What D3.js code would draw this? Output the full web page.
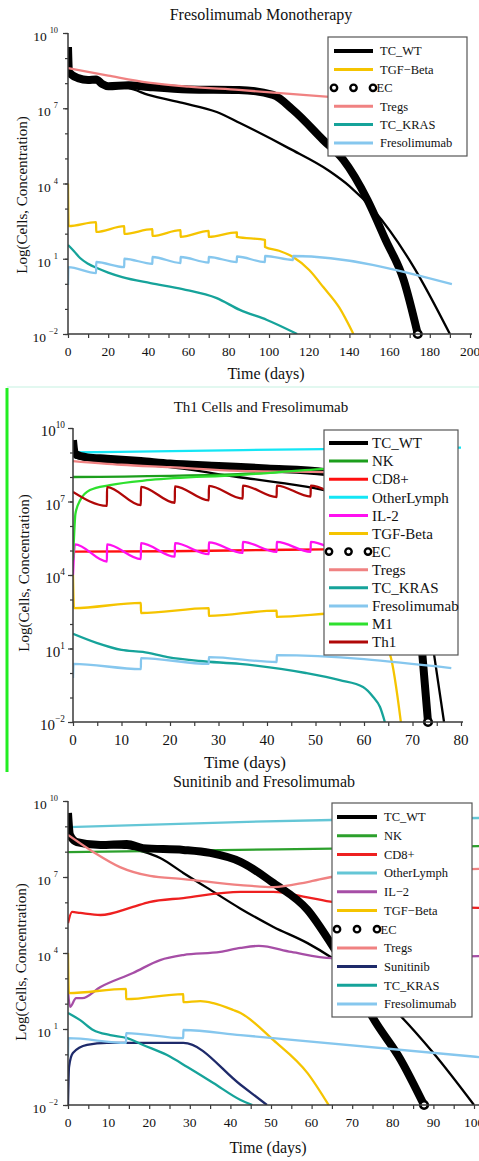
<!DOCTYPE html>
<html>
<head>
<meta charset="utf-8">
<script src="https://cdn.jsdelivr.net/npm/d3@7"></script>
<style>
body { margin: 0; background: #fff; }
svg { display: block; }
text { font-family: "Liberation Serif", "Times New Roman", serif; fill: #111; }
</style>
</head>
<body>
<script>
// values are log10 of the quantity: [day, exponent]

// panel 1 - Fresolimumab Monotherapy
var p1_TC_WT = [[0,8.44],[5,8.2],[10,8.13],[14,8.1],[20,7.85],[30,7.8],[40,7.53],[57,7.21],[74,6.85],[85.5,6.41],[110,5.4],[130,4.5],[140,3.9],[152,2.94],[172,0.67],[190,-2]]
var p1_TGF = [[0,4.0],[0.3,2.3],[14,2.46],[14.01,2.07],[28,2.3],[28.01,1.99],[42,2.18],[42.01,1.91],[56,2.14],[56.01,1.87],[70,2.11],[70.01,1.87],[84,2.05],[84.01,1.87],[98,1.75],[98.01,1.47],[105,1.32],[112,1.07],[120,0.55],[127,-0.13],[135,-0.95],[142,-2]]
var p1_EC = [[0,9.44],[0.5,8.44],[5,8.2],[10,8.13],[14,8.15],[17,7.97],[20,7.88],[30,7.92],[40,7.85],[60,7.75],[85,7.73],[102,7.53],[112,6.93],[127,5.73],[137,4.94],[149,3.34],[158,1.75],[167,0.15],[174,-2]]
var p1_Tregs = [[0,8.6],[20,8.3],[40,8.02],[60,7.86],[85,7.73],[130,7.45],[170,7.2]]
var p1_KRAS = [[0,1.55],[3,1.3],[6,1.03],[10,0.8],[14.4,0.63],[20,0.45],[27,0.27],[41,0.03],[57,-0.21],[74,-0.57],[85.5,-1.04],[99,-1.44],[114,-2]]
var p1_Fres = [[0,-0.05],[0.2,0.67],[14,0.43],[14.01,0.87],[28,0.67],[28.01,1.0],[42,0.8],[42.01,1.07],[56,0.83],[56.01,1.07],[70,0.85],[70.01,1.07],[84,0.87],[84.01,1.09],[98,0.87],[98.01,1.11],[112,0.95],[112.01,1.11],[191,-0.01]]

// panel 2 - Th1 Cells and Fresolimumab
var p2_TC_WT = [[0,9.5],[0.4,8.8],[3,8.7],[10,8.55],[20,8.4],[34,8.0],[45,7.7],[52,7.45],[60,6.9],[66,6.1],[70,5.1],[72,4.2],[74,1.35],[76.5,-2]]
var p2_NK = [[0,8.0],[34,8.12],[52,8.3],[78,8.4]]
var p2_CD8 = [[0,4.95],[20,4.97],[40,5.02],[52,5.05],[78,5.1]]
var p2_Other = [[0,9.0],[35,9.1],[80,9.2]]
var p2_IL2 = [[0,4.0],[0.4,5.25],[7,4.55],[7.01,5.25],[14,4.65],[14.01,5.3],[21,4.75],[21.01,5.3],[28,4.85],[28.01,5.33],[35,4.9],[35.01,5.35],[42,4.94],[42.01,5.35],[49,4.95],[49.01,5.35],[56,4.95],[56.01,5.35],[63,4.95],[63.01,5.35],[70,4.95],[70.01,5.35],[77,4.95]]
var p2_TGF = [[0,4.0],[0.2,2.65],[14,2.86],[14.01,2.45],[28,2.65],[28.01,2.33],[42,2.55],[42.01,2.29],[56,2.45],[56.01,2.2],[60,1.95],[63,1.45],[65.4,0.73],[67.6,-2]]
var p2_EC = [[0,9.5],[0.4,8.95],[3,8.8],[7,8.75],[14,8.65],[20,8.55],[30,8.45],[40,8.35],[52,8.2],[60,7.7],[65,6.9],[68.5,5.6],[70.5,4.2],[71.8,1.3],[73.2,-2]]
var p2_Tregs = [[0,8.65],[10,8.5],[20,8.4],[34,8.25],[52,8.2],[78,8.1]]
var p2_KRAS = [[0,1.6],[5,1.22],[10,0.94],[14.4,0.86],[19.5,0.65],[26,0.49],[34.4,0.37],[48,0.0],[55,-0.29],[59.8,-0.57],[61.9,-0.98],[63.3,-1.39],[64.3,-2]]
var p2_Fres = [[0,-0.2],[0.1,0.37],[14,0.16],[14.01,0.61],[28,0.37],[28.01,0.65],[42,0.45],[42.01,0.73],[78,0.2]]
var p2_M1 = [[0,4.6],[0.15,5.3],[0.5,6.5],[1.5,7.06],[3.5,7.47],[7.6,7.67],[16,7.88],[34,8.08],[52,8.33],[78,8.5]]
var p2_Th1 = [[0,7.39],[7,6.82],[7.01,7.59],[14,6.85],[14.01,7.6],[21,6.95],[21.01,7.62],[28,7.05],[28.01,7.64],[35,7.12],[35.01,7.65],[42,7.18],[42.01,7.65],[49,7.2],[49.01,7.65],[56,7.22],[56.01,7.65],[63,7.25],[63.01,7.65],[70,7.27],[70.01,7.65],[77,7.3]]

// panel 3 - Sunitinib and Fresolimumab
var p3_TC_WT = [[0,9.4],[0.5,8.6],[3,8.35],[8,8.2],[14.5,8.15],[18.5,8.0],[22.7,7.75],[28.4,7.16],[34.3,6.57],[42.5,5.75],[50.6,5.03],[59,4.39],[64.7,3.84],[81.2,1.63],[90,0.05],[100,-2]]
var p3_NK = [[0,7.98],[42,8.07],[65,8.12],[102,8.22]]
var p3_CD8 = [[0,5.18],[1,5.62],[3,5.58],[8,5.5],[16,5.82],[20,6.01],[28.4,6.17],[42.5,6.41],[50.6,6.41],[59,6.2],[65.4,6.01],[102,5.78]]
var p3_Other = [[0,8.97],[42,9.17],[65,9.25],[102,9.33]]
var p3_IL2 = [[0,2.5],[0.5,1.87],[2,2.22],[3.5,2.22],[8,2.66],[16,3.21],[22.7,3.72],[28.4,3.92],[37.5,4.04],[42.5,4.2],[47,4.28],[55,4.04],[65,3.8],[102,3.88]]
var p3_TGF = [[0,4.0],[0.2,2.42],[14.3,2.58],[14.31,2.18],[28.4,2.38],[28.41,2.06],[32.6,2.1],[35.8,2.02],[40.7,1.75],[42.5,1.63],[50.6,0.56],[59,-0.74],[64.2,-2]]
var p3_EC = [[0,9.53],[0.5,8.66],[2.2,8.38],[8,8.26],[14.5,8.3],[18.5,8.14],[28.4,8.07],[35,7.95],[42.5,7.6],[50.6,6.76],[59,5.7],[64.7,4.39],[70,3.0],[75,1.47],[82,-0.23],[87.7,-2]]
var p3_Tregs = [[0,8.66],[6.2,7.99],[12.8,7.39],[20.2,7.04],[28.4,6.92],[42.5,6.68],[50.6,6.6],[59,6.8],[66.4,7.04],[102,7.32]]
var p3_Sunit = [[0,-2],[0.25,-0.5],[1.2,0.05],[4.7,0.37],[9.6,0.45],[28.4,0.45],[42.5,-1.2],[49,-2]]
var p3_KRAS = [[0,1.63],[3,1.35],[6.2,0.96],[10.4,0.76],[14.6,0.64],[18.5,0.37],[24.4,-0.03],[29.4,-0.5],[35.8,-1.13],[42.5,-1.8],[45.4,-2]]
var p3_Fres = [[0,-0.1],[0.1,0.64],[14.3,0.45],[14.31,0.84],[28.4,0.64],[28.41,0.96],[42.5,0.76],[102,-0.12]]

var yTicks = [-2,-1,0,1,2,3,4,5,6,7,8,9,10]
var yLabels = [-2,1,4,7,10]

// series lists (legend order = draw order)
var series1 = [["TC_WT",p1_TC_WT,"TC_WT"],["TGF\u2212Beta",p1_TGF,"TGF"],["EC",p1_EC,"EC"],["Tregs",p1_Tregs,"Tregs"],["TC_KRAS",p1_KRAS,"KRAS"],["Fresolimumab",p1_Fres,"Fres"]]
var series2 = [["TC_WT",p2_TC_WT,"TC_WT"],["NK",p2_NK,"NK2"],["CD8+",p2_CD8,"CD82"],["OtherLymph",p2_Other,"Other2"],["IL-2",p2_IL2,"IL22"],["TGF-Beta",p2_TGF,"TGF"],["EC",p2_EC,"EC"],["Tregs",p2_Tregs,"Tregs"],["TC_KRAS",p2_KRAS,"KRAS"],["Fresolimumab",p2_Fres,"Fres"],["M1",p2_M1,"M1"],["Th1",p2_Th1,"Th1"]]
var series3 = [["TC_WT",p3_TC_WT,"TC_WT"],["NK",p3_NK,"NK3"],["CD8+",p3_CD8,"CD83"],["OtherLymph",p3_Other,"Other3"],["IL\u22122",p3_IL2,"IL23"],["TGF\u2212Beta",p3_TGF,"TGF"],["EC",p3_EC,"EC"],["Tregs",p3_Tregs,"Tregs"],["Sunitinib",p3_Sunit,"Sunit"],["TC_KRAS",p3_KRAS,"KRAS"],["Fresolimumab",p3_Fres,"Fres"]]

var colors = {TC_WT:"#000", EC:"#000", TGF:"#f5c400", Tregs:"#f08282", KRAS:"#16a39a", Fres:"#86c7ee",
  NK2:"#1c9e1c", CD82:"#ff1010", Other2:"#14e6f5", IL22:"#ff10f0", M1:"#2ee02e", Th1:"#b00808",
  NK3:"#2ca02c", CD83:"#ee2020", Other3:"#64c6d6", IL23:"#a64ea6", Sunit:"#1e2a6a"}

var panels = [
  {id:1, series:series1, xdom:[0,200], left:68, right:470, top:33, bottom:334, axisEnd:472, xMajor:20, xMinor:10,
   title:"Fresolimumab Monotherapy", tx:261, ty:20, tfs:16, xlx:266, xly:379, xlfs:16, ylx:22, yly:195, ylfs:15,
   tickFs:13.5, tickDy:22, yLabEnd:58, supGap:3,
   leg:{x:328, y:37, w:139, h:119, r0:51, dy:18.4, s0:334, s1:373, t:380, fs:12.5}},
  {id:2, series:series2, xdom:[0,80], left:73, right:461, top:428, bottom:722, axisEnd:463, xMajor:10, xMinor:5,
   title:"Th1 Cells and Fresolimumab", tx:261, ty:412, tfs:15, xlx:245, xly:768, xlfs:17, ylx:24, yly:573, ylfs:15,
   tickFs:15, tickDy:23, yLabEnd:65, supGap:0,
   leg:{x:324, y:430, w:134, h:225, r0:443, dy:18.1, s0:329, s1:368, t:372, fs:15}},
  {id:3, series:series3, xdom:[0,100], left:68, right:474, top:801, bottom:1105, axisEnd:479, xMajor:10, xMinor:5,
   title:"Sunitinib and Fresolimumab", tx:264, ty:787, tfs:16, xlx:268, xly:1153, xlfs:16, ylx:21, yly:962, ylfs:15,
   tickFs:13.5, tickDy:22, yLabEnd:58, supGap:3,
   leg:{x:332, y:803, w:140, h:214, r0:817, dy:18.7, s0:337, s1:377, t:384, fs:12.5}}
]

var svg = d3.select("body").append("svg").attr("width",479).attr("height",1161)
svg.append("rect").attr("width",479).attr("height",1161).attr("fill","#fff")

// selection marks around the middle panel
svg.append("line").attr("x1",7).attr("x2",479).attr("y1",387).attr("y2",387).attr("stroke","#c6f2e2").attr("stroke-width",1.2)
svg.append("line").attr("x1",7).attr("x2",7).attr("y1",388).attr("y2",772).attr("stroke","#22ee22").attr("stroke-width",3)

panels.forEach(function(p){
  var x = d3.scaleLinear().domain(p.xdom).range([p.left,p.right])
  var y = d3.scaleLog().domain([1e-2,1e10]).range([p.bottom,p.top])
  var g = svg.append("g")

  svg.append("clipPath").attr("id","clip"+p.id).append("rect")
    .attr("x",p.left).attr("y",p.top-20).attr("width",479-p.left).attr("height",p.bottom-p.top+20)

  var line = d3.line().x(function(d){return x(d[0])}).y(function(d){return y(Math.pow(10,d[1]))}).curve(d3.curveMonotoneX)
  var lines = g.append("g").attr("clip-path","url(#clip"+p.id+")")
  p.series.forEach(function(s){
    var isEC = s[2]==="EC"
    lines.append("path").datum(s[1]).attr("d",line).attr("fill","none")
      .attr("stroke",colors[s[2]]).attr("stroke-width",isEC?8:2.3)
      .attr("stroke-linejoin","round").attr("stroke-linecap","butt")
  })
  // end marker of the EC curve
  p.series.filter(function(s){return s[2]==="EC"}).forEach(function(s){
    var last = s[1][s[1].length-1]
    g.append("circle").attr("cx",x(last[0])).attr("cy",y(Math.pow(10,last[1]))).attr("r",3.8)
      .attr("fill","#fff").attr("stroke","#000").attr("stroke-width",2.6)
  })

  // axes
  var ax = g.append("g").attr("stroke","#3a3a3a")
  ax.append("line").attr("x1",p.left).attr("x2",p.left).attr("y1",p.top).attr("y2",p.bottom).attr("stroke-width",1.5)
  ax.append("line").attr("x1",p.left).attr("x2",p.axisEnd).attr("y1",p.bottom).attr("y2",p.bottom).attr("stroke-width",1.5)

  var yMinor = d3.axisLeft(y).tickValues(yTicks.map(function(e){return Math.pow(10,e)})).tickSize(3).tickSizeOuter(0).tickFormat("")
  var yMajor = d3.axisLeft(y).tickValues(yLabels.map(function(e){return Math.pow(10,e)})).tickSize(5).tickSizeOuter(0).tickFormat("")
  ;[yMinor,yMajor].forEach(function(a){
    var ga = g.append("g").attr("transform","translate("+p.left+",0)").call(a)
    ga.select(".domain").remove()
    ga.selectAll("line").attr("stroke","#3a3a3a").attr("stroke-width",1.2)
  })
  yLabels.forEach(function(e){
    var t = g.append("text").attr("x",p.yLabEnd).attr("y",y(Math.pow(10,e))+8)
      .attr("text-anchor","end").attr("font-size",p.tickFs)
    t.append("tspan").text("10")
    t.append("tspan").attr("dx",p.supGap).attr("dy",-8).attr("font-size",p.tickFs*0.62).text(e<0?"\u2212"+(-e):e)
  })

  var xMinorVals = d3.range(p.xdom[0],p.xdom[1]+0.001,p.xMinor)
  var xMajorVals = d3.range(p.xdom[0],p.xdom[1]+0.001,p.xMajor)
  var gx = g.append("g").attr("transform","translate(0,"+p.bottom+")")
    .call(d3.axisBottom(x).tickValues(xMinorVals).tickSize(4).tickSizeOuter(0).tickFormat(""))
  gx.select(".domain").remove()
  gx.selectAll("line").attr("stroke","#3a3a3a").attr("stroke-width",1.2)
  g.selectAll(null).data(xMajorVals).enter().append("text")
    .attr("x",function(d){return x(d)}).attr("y",p.bottom+p.tickDy)
    .attr("text-anchor","middle").attr("font-size",p.tickFs).text(function(d){return d})

  // titles
  g.append("text").attr("x",p.tx).attr("y",p.ty).attr("text-anchor","middle").attr("font-size",p.tfs).text(p.title)
  g.append("text").attr("x",p.xlx).attr("y",p.xly).attr("text-anchor","middle").attr("font-size",p.xlfs).text("Time (days)")
  g.append("text").attr("transform","translate("+p.ylx+","+p.yly+") rotate(-90)").attr("dy","0.35em")
    .attr("text-anchor","middle").attr("font-size",p.ylfs).text("Log(Cells, Concentration)")

  // legend
  var L = p.leg
  var lg = g.append("g")
  lg.append("rect").attr("x",L.x).attr("y",L.y).attr("width",L.w).attr("height",L.h)
    .attr("fill","#fff").attr("stroke","#555").attr("stroke-width",1.2)
  p.series.forEach(function(s,i){
    var ry = L.r0 + i*L.dy
    if (s[2]==="EC") {
      [L.s0,(L.s0+L.s1)/2,L.s1].forEach(function(cx){
        lg.append("circle").attr("cx",cx).attr("cy",ry).attr("r",3.2).attr("fill","none").attr("stroke","#000").attr("stroke-width",2.4)
      })
      lg.append("text").attr("x",L.s1+3.5).attr("y",ry).attr("dy","0.35em").attr("font-size",L.fs).text(s[0])
    } else {
      lg.append("line").attr("x1",L.s0).attr("x2",L.s1).attr("y1",ry).attr("y2",ry)
        .attr("stroke",colors[s[2]]).attr("stroke-width",s[2]==="TC_WT"?4:3)
      lg.append("text").attr("x",L.t).attr("y",ry).attr("dy","0.35em").attr("font-size",L.fs).text(s[0])
    }
  })
})
</script>
</body>
</html>
